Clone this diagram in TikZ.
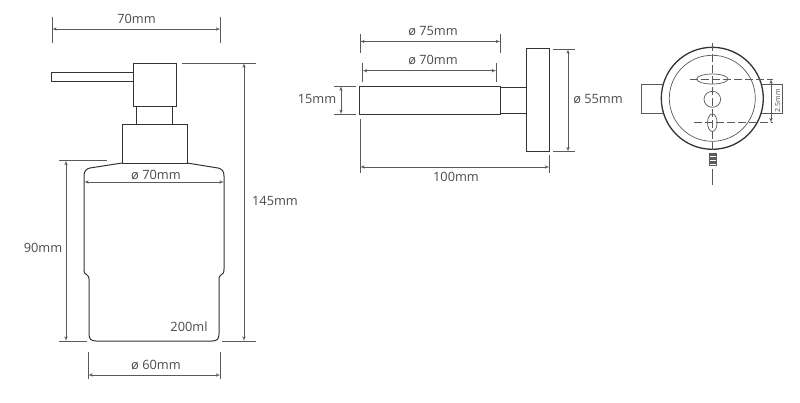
\documentclass[tikz,border=0pt]{standalone}
\usepackage{fontspec}
\setmainfont{Open Sans}
\usetikzlibrary{arrows,shapes,positioning,calc}
\definecolor{inkdark}{HTML}{333333}
\definecolor{inkdim}{HTML}{5A5A5A}
\definecolor{inktext}{HTML}{4A4A4A}
\tikzset{
    part/.style = {draw=inkdark, rectangle, line width=1pt, inner sep=0pt, outer sep=0pt},
    thinpart/.style = {draw=inkdim, rectangle, line width=.7pt, inner sep=0pt, outer sep=0pt, fill=white},
    hole/.style = {draw=inkdim, ellipse, line width=.7pt, inner sep=0pt, outer sep=0pt},
    dimarrow/.style = {draw=inkdim, line width=.6pt, <->},
    extline/.style = {draw=inkdim, line width=.6pt},
    centerline/.style = {draw=inkdim, line width=.7pt, dash pattern=on 8pt off 3pt},
    label/.style = {text=inktext, font=\fontsize{12.8}{14}\selectfont, inner sep=0pt}
}
\begin{document}
\begin{tikzpicture}[x=1pt, y=-1pt, >=latex']
    \useasboundingbox (0,0) rectangle (800,402);
    % dispenser
    \node [part, minimum width=43pt, minimum height=43.5pt, name=head] at (154.5,84.75) {};
    \node [part, minimum width=35.5pt, minimum height=17.5pt, below=0pt of head, name=neck] {};
    \node [part, minimum width=65pt, minimum height=39pt, below=0pt of neck, name=collar] {};
    \node [part, minimum width=82pt, minimum height=9.5pt, name=spout] at (92,76.75) {};
    \draw [inkdark, line width=1pt] (collar.south west) -- (90,168) .. controls (86,169) and (84,171) .. (84,176)
        -- (84,269) .. controls (84,273) and (85,274) .. (87,275) .. controls (88.5,276) and (89,277) .. (89,279)
        -- (89,334) .. controls (89,339) and (91,341) .. (96,341) -- (212,341) .. controls (217,341) and (219,339) .. (219,334)
        -- (219,279) .. controls (219,277) and (219.5,276) .. (221,275) .. controls (223,274) and (224,273) .. (224,269)
        -- (224,176) .. controls (224,171) and (222,169) .. (218,168) -- (collar.south east);
    % wall holder
    \node [part, minimum width=140.5pt, minimum height=28.3pt, name=rod] at (430,100.15) {};
    \node [part, minimum width=26pt, minimum height=26.3pt, right=0pt of rod, name=stem] {};
    \node [part, minimum width=23pt, minimum height=102.7pt, right=0pt of stem, name=plate] {};
    % front view
    \foreach \n/\p in {tableft/652.3,tabright/771.3}{
        \node [thinpart, minimum width=21.3pt, minimum height=29pt, name=\n] at (\p,98.8) {};
    }
    \node [part, circle, fill=white, line width=1.3pt, minimum size=102pt, name=disc] at (712.3,98.3) {};
    \node [hole, circle, minimum size=86pt, name=discin] at (disc) {};
    \node [hole, minimum width=16.6pt, minimum height=16pt, name=holemid] at (712.3,99.3) {};
    \node [hole, minimum width=31.4pt, minimum height=10pt, name=holetop] at (712.3,79) {};
    \node [hole, minimum width=9.6pt, minimum height=17.6pt, name=holebot] at (712.3,122.7) {};
    \node [thinpart, fill=none, minimum width=7.7pt, minimum height=12pt, name=screw] at (712.8,159) {};
    \foreach \a in {1,2,...,8}{
        \draw [inkdim, line width=.6pt] ($(screw.north west)+(0,\a*1.33)$) -- ($(screw.north east)+(0,\a*1.33)$);
    }
    % free ends of the dimension lines
    \foreach \n/\x/\y in {wa/52/17,wb/52/43,wc/220.5/17,wd/220.5/43,we/52/29,wf/220.5/29,
        ha/182/63,hb/256/63,hc/222/341,hd/256/341,he/244/63,hf/244/341,
        ga/59/160.5,gb/107/160.5,gc/59/341,gd/87/341,ge/66/160.5,gf/66/341,
        ba/84/182,bb/224/182,
        fa/88/352,fb/88/379,fc/220.5/352,fd/220.5/379,fe/88/375,ff/220.5/375,
        ra/360/34,rb/360/53,rc/500.3/34,rd/500.3/53,re/360/41.5,rf/500.3/41.5,
        sa/362.5/63,sb/362.5/82,sc/496.3/63,sd/496.3/82,se/362.5/70.7,sf/496.3/70.7,
        ta/334/86,tb/356/86,tc/334/114.3,td/356/114.3,te/341/86,tf/341/114.3,
        la/360/119,lb/360/173,lc/549.5/155,ld/549.5/173,le/360/167,lf/549.5/167,
        pa/553/49,pb/575/49,pc/553/151.7,pd/575/151.7,pe/568/49,pf/568/151.7,
        ca/690/79,cb/773/79,cc/694/122.7,cd/773/122.7,ce/712.3/43,cf/712.3/150,
        cg/712.3/169,ch/712.3/185,ci/771/79,cj/771/122.7}{
        \coordinate (\n) at (\x,\y);
    }
    \foreach \a/\b in {wa/wb,wc/wd,ha/hb,hc/hd,ga/gb,gc/gd,fa/fb,fc/fd,ra/rb,rc/rd,sa/sb,sc/sd,ta/tb,tc/td,la/lb,lc/ld,pa/pb,pc/pd,cg/ch}{
        \draw [extline] (\a) -- (\b);
    }
    \foreach \a/\b in {we/wf,he/hf,ge/gf,ba/bb,fe/ff,re/rf,se/sf,te/tf,le/lf,pe/pf,ci/cj}{
        \draw [dimarrow] (\a) -- (\b);
    }
    \foreach \a/\b in {ca/cb,cc/cd,ce/cf}{
        \draw [centerline] (\a) -- (\b);
    }
    % labels
    \node [label, name=lbwidth] at (136.5,19) {70mm};
    \node [label, name=lbheight] at (275,201) {145mm};
    \node [label, name=lbglass] at (43,247.5) {90mm};
    \node [label, name=lbtop] at (156,175) {ø 70mm};
    \node [label, name=lbbase] at (156,365) {ø 60mm};
    \node [label, name=lbvol] at (189,327) {200ml};
    \node [label, name=lbrodout] at (433,31) {ø 75mm};
    \node [label, name=lbrodin] at (433,60) {ø 70mm};
    \node [label, name=lbrod] at (317,99) {15mm};
    \node [label, name=lbdepth] at (456,177) {100mm};
    \node [label, name=lbplate] at (598,99) {ø 55mm};
    \node [label, font=\fontsize{7}{8}\selectfont, rotate=90, name=lbholes] at (777.7,100.7) {2.5mm};
\end{tikzpicture}
\end{document}
